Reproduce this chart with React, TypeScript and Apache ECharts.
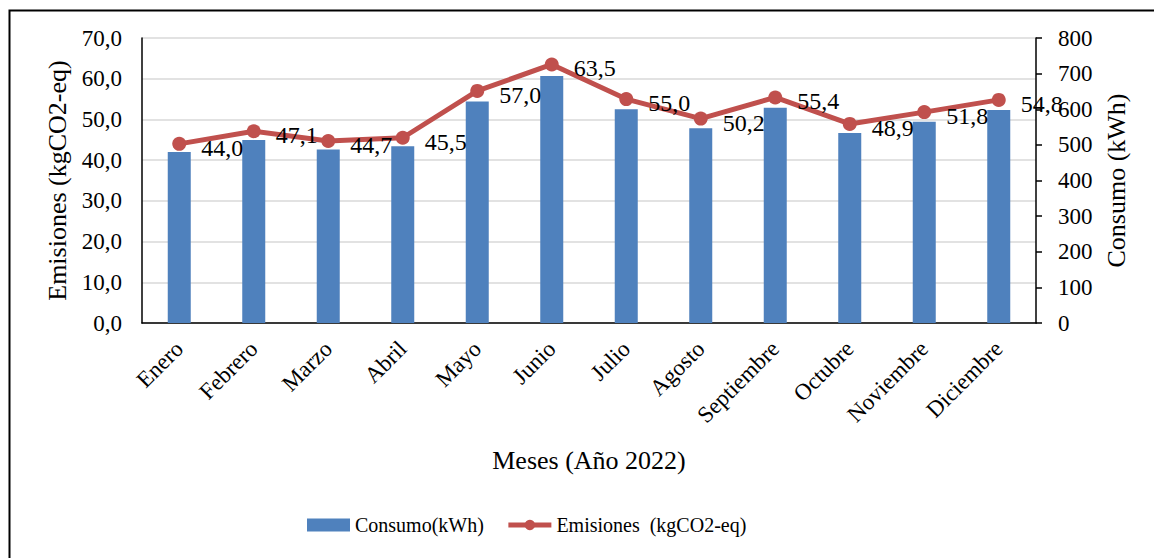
import React, { useEffect, useRef } from "react";
import * as echarts from "echarts";

const months = ["Enero", "Febrero", "Marzo", "Abril", "Mayo", "Junio", "Julio", "Agosto", "Septiembre", "Octubre", "Noviembre", "Diciembre"];
const consumo = [480, 514, 487, 496, 622, 693, 600, 547, 604, 533, 565, 598];
const emisiones = [44.0, 47.1, 44.7, 45.5, 57.0, 63.5, 55.0, 50.2, 55.4, 48.9, 51.8, 54.8];
const leftTicks = { min: 0, max: 70, interval: 10 };
const rightTicks = { min: 0, max: 800, interval: 100 };

const FONT = "'Liberation Serif', 'Times New Roman', serif";
const comma = (v: number) => v.toFixed(1).replace(".", ",");

export default function App() {
  const ref = useRef<HTMLDivElement>(null);
  useEffect(() => {
    if (!ref.current) return;
    const chart = echarts.init(ref.current, undefined, { renderer: "svg" });
    chart.setOption({
      animation: false,
      backgroundColor: "#ffffff",
      textStyle: { fontFamily: FONT, color: "#000" },
      graphic: [
        {
          type: "rect",
          left: 7,
          top: 8,
          shape: { width: 1200, height: 600 },
          style: { fill: "none", stroke: "#000", lineWidth: 2 },
          silent: true,
        },
      ],
      grid: { left: 142, right: 118, top: 38, bottom: 235, containLabel: false },
      legend: {
        left: 302,
        top: 510,
        itemGap: 22,
        itemWidth: 43,
        itemHeight: 13,
        textStyle: { fontFamily: FONT, fontSize: 20, color: "#000" },
        data: [
          { name: "Consumo(kWh)", icon: "rect", itemStyle: { color: "#4F81BD" } },
          { name: "Emisiones  (kgCO2-eq)", lineStyle: { width: 5, color: "#C0504D" }, itemStyle: { color: "#C0504D" } },
        ],
      },
      xAxis: {
        type: "category",
        data: months,
        name: "Meses (Año 2022)",
        nameLocation: "middle",
        nameGap: 124,
        nameTextStyle: { fontFamily: FONT, fontSize: 26, color: "#000" },
        axisLine: { show: true, lineStyle: { color: "#000", width: 1.5 } },
        axisTick: { show: false },
        axisLabel: { rotate: 45, fontFamily: FONT, fontSize: 23, color: "#000", margin: 22, interval: 0 },
      },
      yAxis: [
        {
          type: "value",
          position: "left",
          ...leftTicks,
          name: "Emisiones (kgCO2-eq)",
          nameLocation: "middle",
          nameRotate: 90,
          nameGap: 70,
          nameTextStyle: { fontFamily: FONT, fontSize: 26, color: "#000" },
          axisLine: { show: true, lineStyle: { color: "#000", width: 1.5 } },
          axisTick: { show: false },
          axisLabel: { fontFamily: FONT, fontSize: 23, color: "#000", margin: 20, formatter: (v: number) => comma(v) },
          splitLine: { show: true, lineStyle: { color: "#d9d9d9", width: 1.5 } },
        },
        {
          type: "value",
          position: "right",
          ...rightTicks,
          name: "Consumo (kWh)",
          nameLocation: "middle",
          nameRotate: 90,
          nameGap: 67,
          nameTextStyle: { fontFamily: FONT, fontSize: 26, color: "#000" },
          axisLine: { show: true, lineStyle: { color: "#000", width: 1.5 } },
          axisTick: { show: true, inside: false, length: 6, lineStyle: { color: "#000", width: 1.5 } },
          axisLabel: { fontFamily: FONT, fontSize: 23, color: "#000", margin: 22 },
          splitLine: { show: false },
        },
      ],
      series: [
        {
          name: "Consumo(kWh)",
          type: "bar",
          yAxisIndex: 1,
          data: consumo,
          barWidth: 23,
          itemStyle: { color: "#4F81BD" },
          z: 2,
        },
        {
          name: "Emisiones  (kgCO2-eq)",
          type: "line",
          yAxisIndex: 0,
          data: emisiones,
          symbol: "circle",
          symbolSize: 14,
          lineStyle: { color: "#C0504D", width: 5 },
          itemStyle: { color: "#C0504D" },
          z: 3,
          label: {
            show: true,
            position: "right",
            offset: [10, 4],
            fontFamily: FONT,
            fontSize: 24,
            color: "#000",
            formatter: (p: any) => comma(p.value),
          },
        },
      ],
    });
    return () => chart.dispose();
  }, []);
  return <div ref={ref} style={{ position: "absolute", left: 0, top: 0, width: 1154, height: 558 }} />;
}
